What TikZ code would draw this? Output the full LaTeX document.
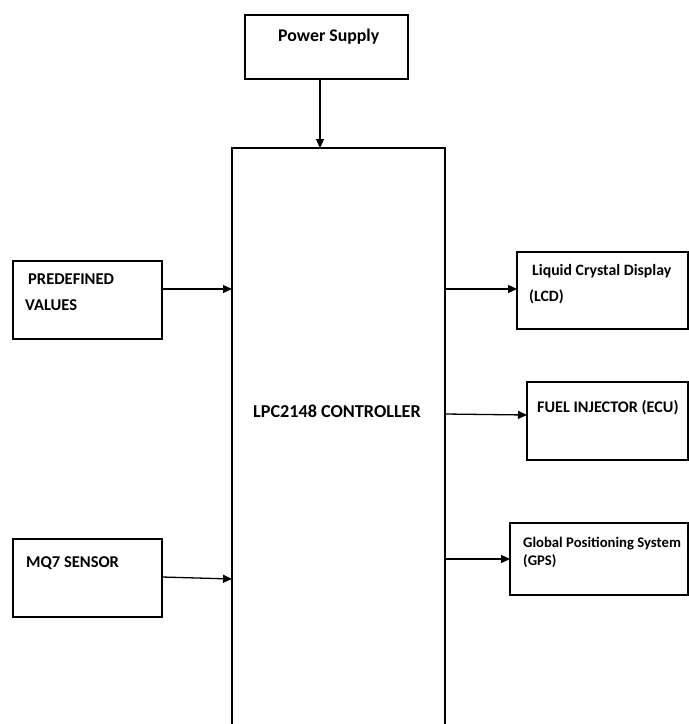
\documentclass[tikz,border=0pt]{standalone}
\usepackage{fontspec}
\setmainfont{Carlito}
\usetikzlibrary{arrows.meta}
\tikzset{
  box/.style={draw=black, line width=1.4pt, inner sep=0pt, outer sep=0pt, fill=white},
  arr/.style={draw=black, line width=1.3pt, -{Triangle[length=9pt,width=8pt]}},
  lbl/.style={anchor=base west, inner sep=0pt, font=\bfseries},
}
\begin{document}
\begin{tikzpicture}[x=1pt,y=-1pt]
\useasboundingbox (0,0) rectangle (689,724);
\clip (0,0) rectangle (689,724);
\fill[white] (0,0) rectangle (689,724);

% boxes
\node[box, minimum width=163pt, minimum height=64pt] (ps)   at (326.5,47) {};
\node[box, minimum width=213pt, minimum height=700pt] (ctrl) at (338.5,498) {};
\node[box, minimum width=149pt, minimum height=78pt] (pre)  at (87.5,300) {};
\node[box, minimum width=149pt, minimum height=78pt] (mq)   at (87.5,578) {};
\node[box, minimum width=171pt, minimum height=77pt] (lcd)  at (602.5,290.5) {};
\node[box, minimum width=161pt, minimum height=78pt] (fuel) at (607.5,421) {};
\node[box, minimum width=178pt, minimum height=72pt] (gps)  at (599,559) {};

% texts
\node[lbl, font=\bfseries\fontsize{17.8}{20}\selectfont] (tps) at (278,41) {Power Supply};
\node[lbl, font=\bfseries\fontsize{16.5}{19}\selectfont] (tpre1) at (28,284) {PREDEFINED};
\node[lbl, font=\bfseries\fontsize{16.5}{19}\selectfont] (tpre2) at (25,310) {VALUES};
\node[lbl, font=\bfseries\fontsize{16.5}{19}\selectfont] (tmq) at (26,567) {MQ7 SENSOR};
\node[lbl, font=\bfseries\fontsize{15.8}{18}\selectfont] (tlcd1) at (532,275) {Liquid Crystal Display};
\node[lbl, font=\bfseries\fontsize{15.8}{18}\selectfont] (tlcd2) at (529,301) {(LCD)};
\node[lbl, font=\bfseries\fontsize{16.2}{19}\selectfont] (tfuel) at (537,412) {FUEL INJECTOR (ECU)};
\node[lbl, font=\bfseries\fontsize{14.7}{17}\selectfont] (tgps1) at (523,547) {Global Positioning System};
\node[lbl, font=\bfseries\fontsize{14.7}{17}\selectfont] (tgps2) at (523,565) {(GPS)};
\node[anchor=base, inner sep=0pt, font=\bfseries\fontsize{18.2}{20}\selectfont] (tctrl) at (337,417) {LPC2148 CONTROLLER};

% connectors
\coordinate (xps) at (320,0);
\coordinate (y1) at (0,289);
\coordinate (y3) at (0,414);
\coordinate (y4) at (0,559);
\draw[arr] (ps.south -| xps) -- (ctrl.north -| xps);
\draw[arr] (pre.east |- y1) -- (ctrl.west |- y1);
\draw[arr] ([yshift=1pt]mq.east) -- ([yshift=-1pt]ctrl.west |- mq.east);
\draw[arr] (ctrl.east |- y1) -- (lcd.west |- y1);
\draw[arr] (ctrl.east |- y3) -- ([yshift=-1pt]fuel.west |- y3);
\draw[arr] (ctrl.east |- y4) -- (gps.west |- y4);
\end{tikzpicture}
\end{document}
